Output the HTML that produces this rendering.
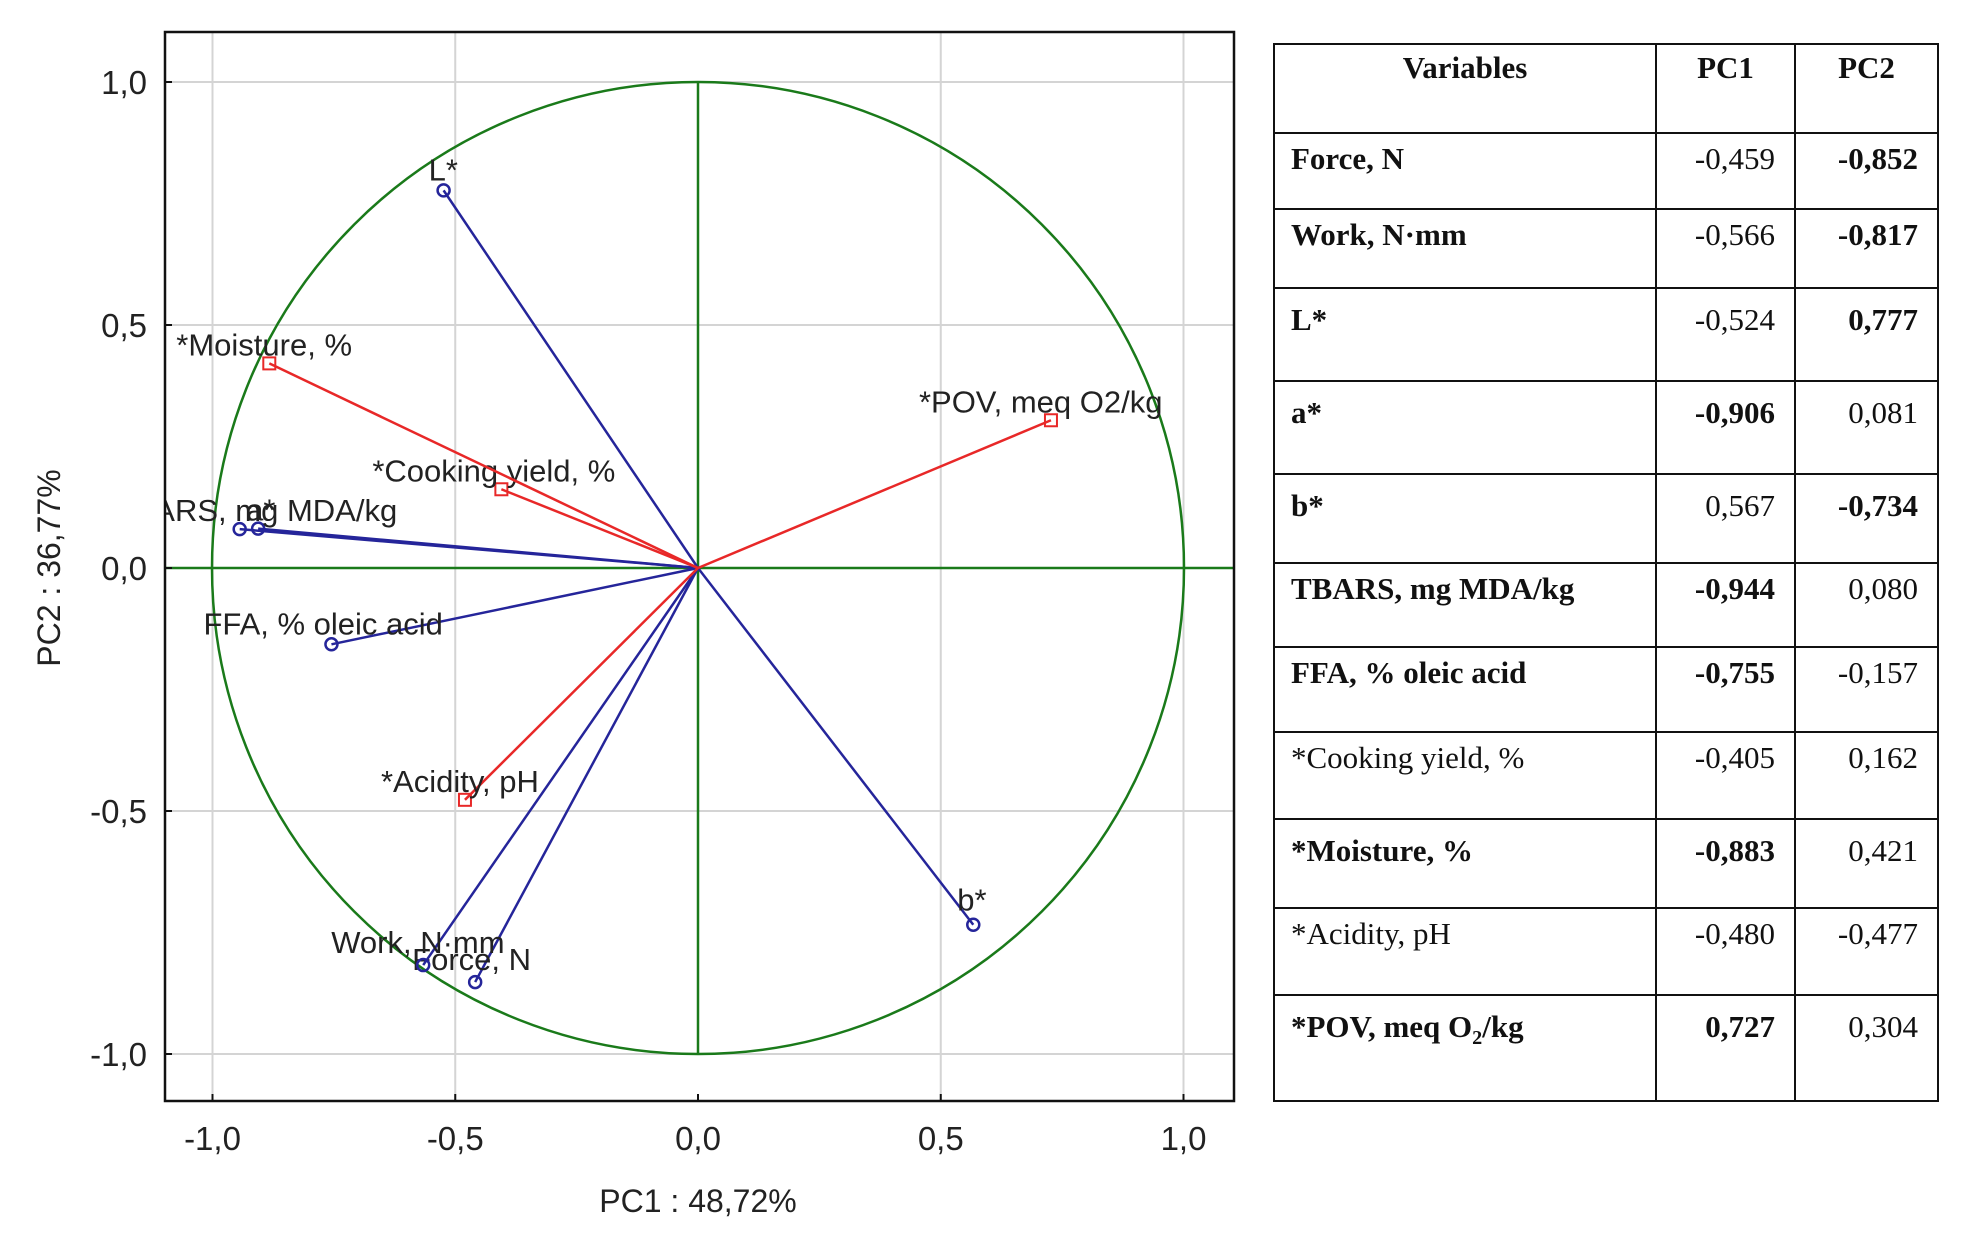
<!DOCTYPE html>
<html><head><meta charset="utf-8"><style>
body{margin:0;background:#fff;width:1976px;height:1238px;overflow:hidden;position:relative;font-family:"Liberation Sans",sans-serif}
svg{position:absolute;left:0;top:0}
table{position:absolute;left:1273px;top:43px;width:664px;table-layout:fixed;border-collapse:collapse;font-family:"Liberation Serif",serif;font-size:31px;color:#111}
td{border:2.5px solid #111;padding:0;vertical-align:top;white-space:nowrap;overflow:hidden}
td.v{padding-left:16px}
td.n{text-align:right;padding-right:19px}
th{border:2.5px solid #111;font-weight:bold;vertical-align:top;padding-top:5px}
.b{font-weight:bold}
</style></head><body>
<svg width="1976" height="1238">
<defs><clipPath id="pc"><rect x="165" y="32" width="1069" height="1069"/></clipPath></defs>
<g id="grid"></g>
<g id="series" clip-path="url(#pc)"></g>
<rect x="165" y="32" width="1069" height="1069" fill="none" stroke="#111" stroke-width="2.5"/>
<g id="ticks"></g>
<text x="698" y="1212" text-anchor="middle" font-size="32" fill="#222">PC1 : 48,72%</text>
<text x="60" y="568" text-anchor="middle" font-size="32" fill="#222" transform="rotate(-90 60 568)">PC2 : 36,77%</text>
</svg>
<table>
<colgroup><col style="width:382px"><col style="width:139px"><col style="width:143px"></colgroup>
<tr style="height:89px"><th>Variables</th><th>PC1</th><th>PC2</th></tr>
<tbody id="tb"></tbody>
</table>
<script>
const names=["Force, N","Work, N·mm","L*","a*","b*","TBARS, mg MDA/kg","FFA, % oleic acid","*Cooking yield, %","*Moisture, %","*Acidity, pH","*POV, meq O2/kg"];
const pc1=[-0.459,-0.566,-0.524,-0.906,0.567,-0.944,-0.755,-0.405,-0.883,-0.480,0.727];
const pc2=[-0.852,-0.817,0.777,0.081,-0.734,0.080,-0.157,0.162,0.421,-0.477,0.304];
const supplementary=[false,false,false,false,false,false,false,true,true,true,true];
const pc1Bold=[false,false,false,true,false,true,true,false,true,false,true];
const pc2Bold=[true,true,true,false,true,false,false,false,false,false,false];
const nameBold=[true,true,true,true,true,true,true,false,true,false,true];
const plotLabels=["Force, N","Work, N·mm","L*","a*","b*","TBARS, mg MDA/kg","FFA, % oleic acid","*Cooking yield, %","*Moisture, %","*Acidity, pH","*POV, meq O2/kg"];
const tickVals=[-1,-0.5,0,0.5,1];
const tickLabels=["-1,0","-0,5","0,0","0,5","1,0"];
const labelDx=[-63,-92,-15,-12,-16,-125,-128,-129,-93,-84,-132];
const labelDy=[-12,-12,-10,-8,-14,-8,-10,-8,-8,-8,-8];
const rowH=[76,79,93,93,89,84,85,87,89,87,106];
const X=v=>698+v*485.5, Y=v=>568-v*486;
const NS="http://www.w3.org/2000/svg";
function mk(tag,attrs,parent){const e=document.createElementNS(NS,tag);for(const k in attrs)e.setAttribute(k,attrs[k]);parent.appendChild(e);return e;}
const grid=document.getElementById('grid'),ticks=document.getElementById('ticks'),ser=document.getElementById('series');
tickVals.forEach((t,i)=>{
  if(t!==0){
    const g1=mk('line',{x1:X(t),x2:X(t),y1:32,y2:1101,stroke:'#d4d4d4','stroke-width':2},grid);
    
    
    const g2=mk('line',{x1:165,x2:1234,y1:Y(t),y2:Y(t),stroke:'#d4d4d4','stroke-width':2},grid);
    
    
  }
  const tx=mk('text',{x:X(t),y:1150,'text-anchor':'middle','font-size':33,fill:'#222'},ticks);tx.textContent=tickLabels[i];
  
  
  const ty=mk('text',{x:147,y:Y(t)+12,'text-anchor':'end','font-size':33,fill:'#222'},ticks);ty.textContent=tickLabels[i];
  
  
  mk('line',{x1:X(t),x2:X(t),y1:1101,y2:1094,stroke:'#111','stroke-width':2},ticks);
  mk('line',{x1:165,x2:172,y1:Y(t),y2:Y(t),stroke:'#111','stroke-width':2},ticks);
});
const circ=mk('circle',{cx:X(0),cy:Y(0),r:486,fill:'none',stroke:'#1a7a1a','stroke-width':2.5},ser);


const ax=mk('line',{x1:X(0),x2:1234,y1:Y(0),y2:Y(0),stroke:'#1a7a1a','stroke-width':2.5},ser);


mk('line',{x1:165,x2:X(0),y1:Y(0),y2:Y(0),stroke:'#1a7a1a','stroke-width':2.5},ser);
const ay=mk('line',{x1:X(0),x2:X(0),y1:Y(1),y2:Y(-1),stroke:'#1a7a1a','stroke-width':2.5},ser);


names.forEach((n,i)=>{
  const c=supplementary[i]?'#e82828':'#25259a';
  const x=X(pc1[i]),y=Y(pc2[i]);
  const l=mk('line',{x1:X(0),y1:Y(0),x2:x,y2:y,stroke:c,'stroke-width':2.5},ser);
  
  
  let m;
  if(supplementary[i]) m=mk('rect',{x:x-6,y:y-6,width:12,height:12,fill:'none',stroke:c,'stroke-width':2},ser);
  else m=mk('circle',{cx:x,cy:y,r:6,fill:'none',stroke:c,'stroke-width':2.5},ser);
  
  
  const t=mk('text',{x:x+labelDx[i],y:y+labelDy[i],'font-size':31,fill:'#222'},ser);t.textContent=plotLabels[i];
  
  
});
const fmt=v=>v.toFixed(3).replace('.',',');
const tb=document.getElementById('tb');
names.forEach((n,i)=>{
  const tr=document.createElement('tr');tr.style.height=rowH[i]+'px';
  
  
  let nm=n.replace('O2','O<sub style="font-size:0.65em">2</sub>');
  const pad='padding-top:'+(rowH[i]>88?13:7)+'px';
  tr.innerHTML=`<td class="v ${nameBold[i]?'b':''}" style="${pad}">${nm}</td><td class="n ${pc1Bold[i]?'b':''}" style="${pad}">${fmt(pc1[i])}</td><td class="n ${pc2Bold[i]?'b':''}" style="${pad}">${fmt(pc2[i])}</td>`;
  tb.appendChild(tr);
});
</script>
</body></html>
